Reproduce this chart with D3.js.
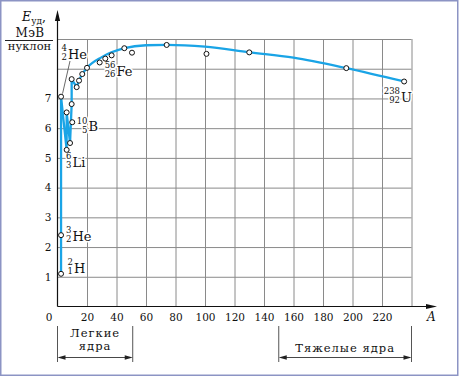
<!DOCTYPE html>
<html lang="ru">
<head>
<meta charset="UTF-8">
<title>Удельная энергия связи</title>
<style>
  body { margin: 0; background: #fff; }
  svg { display: block; }
  text { font-family: "DejaVu Serif", serif; fill: #111; }
  .tick text { font-size: 10.5px; }
  .grid line { stroke: #8a8a8a; stroke-width: 1; }
  .grid path { display: none; }
  .nucl { paint-order: stroke; stroke: #fff; stroke-width: 3px; stroke-linejoin: round; }
</style>
</head>
<body>
<script src="https://cdnjs.cloudflare.com/ajax/libs/d3/7.8.5/d3.min.js"></script>
<script>
// точки на графике (массовое число A, энергия связи на нуклон)
var pointA = [2.4, 2.4, 2.4, 6.2, 8.5, 6.2, 9.6, 10, 9.6, 13, 14.6, 16.8, 20, 28.6, 32.4, 36.7, 45.3, 50.5, 74, 101, 130, 195.8, 235];
var pointE = [1.10, 2.40, 7.06, 5.27, 5.50, 6.53, 6.81, 6.20, 7.65, 7.38, 7.60, 7.82, 8.03, 8.21, 8.34, 8.45, 8.69, 8.54, 8.80, 8.50, 8.55, 8.02, 7.57];

// ломаная для лёгких ядер
var lightA = [2.4, 2.4, 2.4, 6.2, 6.2, 8.5, 9.6, 9.6, 13];
var lightE = [1.10, 2.40, 7.06, 5.27, 6.53, 5.50, 6.81, 7.65, 7.38];

// плавная кривая дальше
var curveA = [13, 14.6, 16.8, 20, 30, 45.3, 60, 74, 100, 130, 160, 195.8, 235];
var curveE = [7.38, 7.60, 7.82, 8.03, 8.39, 8.69, 8.79, 8.80, 8.74, 8.55, 8.37, 8.02, 7.57];

var xTicks = [0, 20, 40, 60, 80, 100, 120, 140, 160, 180, 200, 220];
var xGrid = [20, 40, 60, 80, 100, 120, 140, 160, 180, 200, 220, 240];
var yTicks = [1, 2, 3, 4, 5, 6, 7];
var yGrid = [1, 2, 3, 4, 5, 6, 7, 8, 9];

// подписи ядер: массовое число, заряд, символ
var nuclMass = ['2', '3', '6', '10', '4', '56', '238'];
var nuclZ = ['1', '2', '3', '5', '2', '26', '92'];
var nuclSym = ['H', 'He', 'Li', 'B', 'He', 'Fe', 'U'];

var W = 459, H = 377;
var x = d3.scaleLinear().domain([0, 240]).range([57.5, 411.5]);
var y = d3.scaleLinear().domain([0, 9]).range([306.5, 39]);

var svg = d3.select('body').append('svg')
    .attr('width', W).attr('height', H);

// рамка
svg.append('rect')
    .attr('x', 0.75).attr('y', 0.75)
    .attr('width', 457).attr('height', 374.5)
    .attr('fill', 'none').attr('stroke', '#8c94c4').attr('stroke-width', 1.5);

// сетка
svg.append('g').attr('class', 'grid')
    .attr('transform', 'translate(0,' + y(0) + ')')
    .call(d3.axisBottom(x).tickValues(xGrid).tickSize(-(y(0) - y(9))).tickFormat(''));
svg.append('g').attr('class', 'grid')
    .attr('transform', 'translate(' + x(0) + ',0)')
    .call(d3.axisLeft(y).tickValues(yGrid).tickSize(-(x(240) - x(0))).tickFormat(''));

// подписи делений
var xAx = svg.append('g')
    .attr('transform', 'translate(0,' + y(0) + ')')
    .call(d3.axisBottom(x).tickValues(xTicks).tickSize(0).tickPadding(7));
xAx.select('.domain').remove();
xAx.selectAll('.tick').filter(function (d) { return d === 0; })
    .select('text').attr('x', -9);

var yAx = svg.append('g')
    .attr('transform', 'translate(' + x(0) + ',0)')
    .call(d3.axisLeft(y).tickValues(yTicks).tickSize(0).tickPadding(6));
yAx.select('.domain').remove();
svg.selectAll('.tick text').attr('fill', '#111');

// оси со стрелками
svg.append('line')
    .attr('x1', x(0)).attr('y1', y(0)).attr('x2', x(0)).attr('y2', 18)
    .attr('stroke', '#111').attr('stroke-width', 1.2);
svg.append('path')
    .attr('d', 'M' + x(0) + ',10 L' + (x(0) - 2.6) + ',21 L' + (x(0) + 2.6) + ',21 Z')
    .attr('fill', '#111');
svg.append('line')
    .attr('x1', x(0)).attr('y1', y(0)).attr('x2', 430).attr('y2', y(0))
    .attr('stroke', '#111').attr('stroke-width', 1.2);
svg.append('path')
    .attr('d', 'M437,' + y(0) + ' L426,' + (y(0) - 2.6) + ' L426,' + (y(0) + 2.6) + ' Z')
    .attr('fill', '#111');

svg.append('text')
    .attr('x', 427).attr('y', 321)
    .style('font-style', 'italic').style('font-size', '12px')
    .text('A');

// подпись оси Y
var yl = svg.append('text').attr('x', 22).attr('y', 21).style('font-size', '12.5px');
yl.append('tspan').style('font-style', 'italic').text('E');
yl.append('tspan').attr('dy', 3).style('font-size', '9px').text('уд');
yl.append('tspan').attr('dy', -3).text(',');
svg.append('text').attr('x', 30).attr('y', 37).attr('text-anchor', 'middle')
    .style('font-size', '12px').style('letter-spacing', '0.4px').text('МэВ');
svg.append('line')
    .attr('x1', 5).attr('x2', 53).attr('y1', 40.5).attr('y2', 40.5)
    .attr('stroke', '#222').attr('stroke-width', 1);
svg.append('text').attr('x', 29.5).attr('y', 49.5).attr('text-anchor', 'middle')
    .style('font-size', '11.5px').text('нуклон');

// кривая
var line = d3.line()
    .x(function (d) { return x(d[0]); })
    .y(function (d) { return y(d[1]); });

svg.append('path')
    .datum(d3.zip(lightA, lightE))
    .attr('d', line)
    .attr('fill', 'none').attr('stroke', '#1aa4e6').attr('stroke-width', 2.3)
    .attr('stroke-linejoin', 'round');
svg.append('path')
    .datum(d3.zip(curveA, curveE))
    .attr('d', line.curve(d3.curveMonotoneX))
    .attr('fill', 'none').attr('stroke', '#1aa4e6').attr('stroke-width', 2.3);

// выноска к гелию-4
svg.append('line')
    .attr('x1', x(2.4) + 1.5).attr('y1', y(7.06) - 3)
    .attr('x2', 70).attr('y2', 61)
    .attr('stroke', '#444').attr('stroke-width', 0.8);

// подписи ядер (положение символа, базовая линия)
var labelPos = [[74, 272.5], [72.5, 240.5], [72.5, 166.5], [88.5, 131], [68, 58.5], [116.5, 75.5], [401, 101.5]];
nuclSym.forEach(function (s, i) {
    var p = labelPos[i];
    var gx = p[0] - 1;
    svg.append('text').attr('class', 'nucl').attr('x', gx).attr('y', p[1] - 7.5)
        .attr('text-anchor', 'end').style('font-size', '8.5px').text(nuclMass[i]);
    svg.append('text').attr('class', 'nucl').attr('x', gx).attr('y', p[1] + 1.5)
        .attr('text-anchor', 'end').style('font-size', '8.5px').text(nuclZ[i]);
    svg.append('text').attr('class', 'nucl').attr('x', p[0]).attr('y', p[1])
        .style('font-size', '13px').text(s);
});

// точки
svg.selectAll('.dot')
    .data(d3.zip(pointA, pointE))
    .enter().append('circle')
    .attr('class', 'dot')
    .attr('cx', function (d) { return x(d[0]); })
    .attr('cy', function (d) { return y(d[1]); })
    .attr('r', 2.5)
    .attr('fill', '#fff').attr('stroke', '#111').attr('stroke-width', 1);

// скобки "Легкие ядра" / "Тяжелые ядра"
function bracket(a0, a1, lines, ys) {
    [a0, a1].forEach(function (a) {
        svg.append('line')
            .attr('x1', x(a)).attr('x2', x(a)).attr('y1', 326).attr('y2', 362)
            .attr('stroke', '#555').attr('stroke-width', 1);
    });
    svg.append('line')
        .attr('x1', x(a0) + 6).attr('x2', x(a1) - 6).attr('y1', 357.5).attr('y2', 357.5)
        .attr('stroke', '#333').attr('stroke-width', 0.9);
    svg.append('path')
        .attr('d', 'M' + x(a0) + ',357.5 l8,-2.2 l0,4.4 Z M' + x(a1) + ',357.5 l-8,-2.2 l0,4.4 Z')
        .attr('fill', '#222');
    lines.forEach(function (t, i) {
        svg.append('text')
            .attr('x', (x(a0) + x(a1)) / 2).attr('y', ys[i])
            .attr('text-anchor', 'middle')
            .style('font-size', '11.5px').style('letter-spacing', '1px')
            .text(t);
    });
}
bracket(0, 51, ['Легкие', 'ядра'], [337, 350]);
bracket(150, 240, ['Тяжелые ядра'], [352]);
</script>
</body>
</html>
